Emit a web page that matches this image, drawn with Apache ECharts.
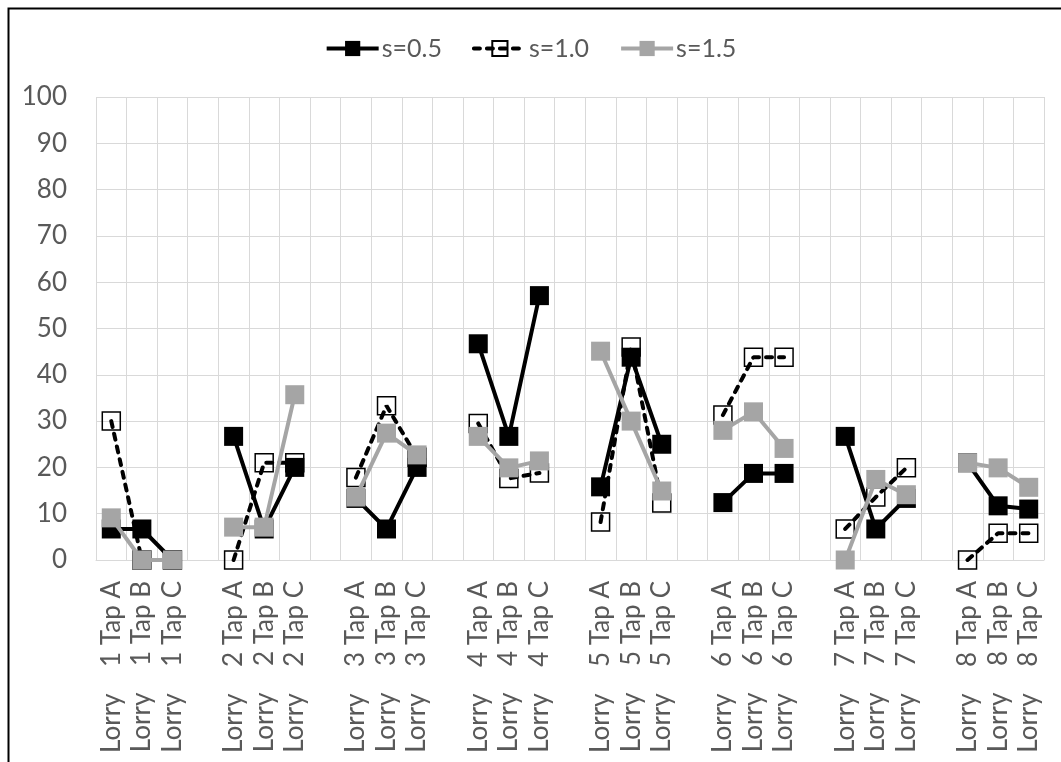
<!DOCTYPE html>
<html>
<head>
<meta charset="utf-8">
<script src="https://cdn.jsdelivr.net/npm/echarts@6/dist/echarts.min.js"></script>
<style>
html,body{margin:0;padding:0;background:#fff;}
#c{width:1061px;height:762px;}
</style>
</head>
<body>
<div id="c"></div>
<script>
var categories = [
  'Lorry    1 Tap A','Lorry    1 Tap B','Lorry    1 Tap C','',
  'Lorry    2 Tap A','Lorry    2 Tap B','Lorry    2 Tap C','',
  'Lorry    3 Tap A','Lorry    3 Tap B','Lorry    3 Tap C','',
  'Lorry    4 Tap A','Lorry    4 Tap B','Lorry    4 Tap C','',
  'Lorry    5 Tap A','Lorry    5 Tap B','Lorry    5 Tap C','',
  'Lorry    6 Tap A','Lorry    6 Tap B','Lorry    6 Tap C','',
  'Lorry    7 Tap A','Lorry    7 Tap B','Lorry    7 Tap C','',
  'Lorry    8 Tap A','Lorry    8 Tap B','Lorry    8 Tap C'
];
var s05 = [6.7, 6.7, 0, null, 26.7, 6.7, 20, null, 13.3, 6.7, 20, null, 46.7, 26.7, 57.1, null, 15.8, 43.8, 25, null, 12.4, 18.7, 18.7, null, 26.7, 6.7, 13.3, null, 21, 11.7, 11];
var s10 = [30, 0, 0, null, 0, 21, 21, null, 17.8, 33.3, 22.2, null, 29.5, 17.6, 18.8, null, 8.2, 46, 12.3, null, 31.3, 43.8, 43.8, null, 6.7, 13.6, 19.9, null, 0, 5.8, 5.8];
var s15 = [9.1, 0, 0, null, 7.1, 7.1, 35.7, null, 13.6, 27.4, 22.7, null, 26.7, 19.9, 21.4, null, 45.1, 30, 14.9, null, 28, 32, 24.1, null, 0, 17.4, 14.1, null, 21, 19.9, 15.7];
var seriesNames = ['s=0.5', 's=1.0', 's=1.5'];
var yTicks = {min: 0, max: 100, interval: 10};

var FONT = 'Lato, "Open Sans", sans-serif';
var chart = echarts.init(document.getElementById('c'), null, {renderer: 'canvas'});
chart.setOption({
  animation: false,
  backgroundColor: '#ffffff',
  graphic: [{
    type: 'rect', left: 6, top: 6, z: -1,
    shape: {width: 1100, height: 800},
    style: {fill: 'none', stroke: '#000', lineWidth: 2}
  }],
  legend: {
    data: seriesNames,
    top: 31,
    left: 'center',
    itemWidth: 52,
    itemHeight: 19,
    itemGap: 30,
    lineStyle: {width: 4},
    textStyle: {fontFamily: FONT, fontSize: 25, color: '#595959', padding: [0,0,0,-2]}
  },
  grid: {left: 96, right: 17, top: 97, bottom: 202, containLabel: false},
  xAxis: {
    type: 'category',
    data: categories,
    boundaryGap: true,
    axisLine: {show: true, lineStyle: {color: '#d9d9d9', width: 1}},
    axisTick: {show: false},
    splitLine: {show: true, interval: 0, lineStyle: {color: '#d9d9d9', width: 1}},
    axisLabel: {interval: 0, rotate: 90, margin: 21, fontFamily: FONT, fontSize: 26, color: '#595959'}
  },
  yAxis: {
    type: 'value',
    min: yTicks.min, max: yTicks.max, interval: yTicks.interval,
    axisLine: {show: false},
    axisTick: {show: false},
    splitLine: {lineStyle: {color: '#d9d9d9', width: 1}},
    axisLabel: {margin: 29, fontFamily: FONT, fontSize: 26, color: '#595959'}
  },
  series: [
    {
      name: 's=1.0', type: 'line', data: s10, z: 2,
      symbol: 'rect', symbolSize: 18, showAllSymbol: true,
      itemStyle: {color: 'rgba(255,255,255,0)', borderColor: '#000', borderWidth: 1.5},
      lineStyle: {color: '#000', width: 4, type: [6, 7], cap: 'round'},
      emphasis: {disabled: true}
    },
    {
      name: 's=0.5', type: 'line', data: s05, z: 3,
      symbol: 'rect', symbolSize: 19, showAllSymbol: true,
      itemStyle: {color: '#000', borderWidth: 0},
      lineStyle: {color: '#000', width: 4},
      emphasis: {disabled: true}
    },
    {
      name: 's=1.5', type: 'line', data: s15, z: 4,
      symbol: 'rect', symbolSize: 19, showAllSymbol: true,
      itemStyle: {color: '#a5a5a5', borderWidth: 0},
      lineStyle: {color: '#a5a5a5', width: 4},
      emphasis: {disabled: true}
    }
  ]
});
</script>
</body>
</html>
